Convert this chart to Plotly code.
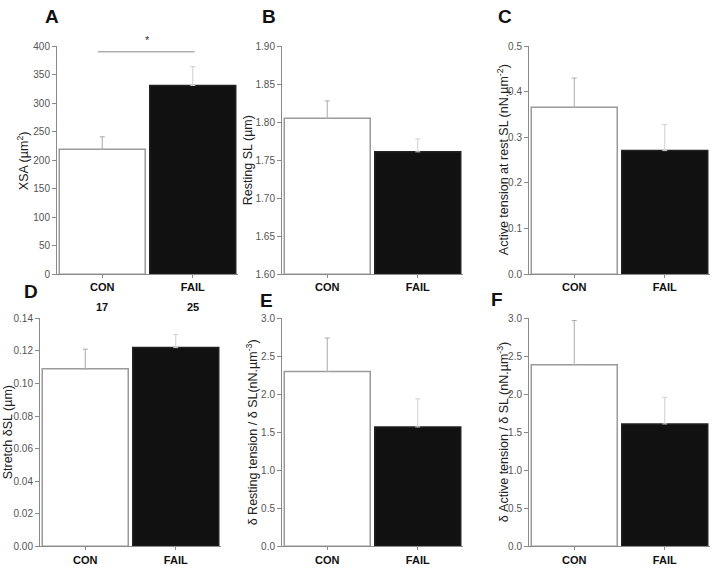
import plotly.graph_objects as go

W, H = 714, 569

categories = ["CON", "FAIL"]

# Panel values (mean, SEM)
xsa_mean = [219, 331]
xsa_sem = [22, 33]
rest_sl_mean = [1.805, 1.761]
rest_sl_sem = [0.023, 0.017]
active_rest_mean = [0.366, 0.271]
active_rest_sem = [0.064, 0.057]
stretch_mean = [0.109, 0.122]
stretch_sem = [0.012, 0.008]
rest_slope_mean = [2.30, 1.57]
rest_slope_sem = [0.44, 0.37]
active_slope_mean = [2.39, 1.61]
active_slope_sem = [0.58, 0.35]

n_labels = ["17", "25"]
sig_y = 390
sig_star_y = 396

panels = [
    dict(letter="A", mean=xsa_mean, sem=xsa_sem, title="XSA (µm<sup>2</sup>)",
         rng=[0, 400], dtick=50, fmt="d", px=(57, 238), py=(41, 274), tx=23, lx=52, ly=11),
    dict(letter="B", mean=rest_sl_mean, sem=rest_sl_sem, title="Resting SL (µm)",
         rng=[1.60, 1.90], dtick=0.05, fmt=".2f", px=(282, 463), py=(41, 274), tx=248, lx=269, ly=11),
    dict(letter="C", mean=active_rest_mean, sem=active_rest_sem,
         title="Active tension at rest SL (nN.µm<sup>-2</sup>)",
         rng=[0, 0.5], dtick=0.1, fmt=".1f", px=(529, 710), py=(41, 274), tx=503, lx=505, ly=11),
    dict(letter="D", mean=stretch_mean, sem=stretch_sem, title="Stretch δSL (µm)",
         rng=[0, 0.14], dtick=0.02, fmt=".2f", px=(40, 221), py=(319, 552), tx=8, lx=31, ly=292),
    dict(letter="E", mean=rest_slope_mean, sem=rest_slope_sem,
         title="δ Resting tension / δ SL(nN.µm<sup>-3</sup>)",
         rng=[0, 3.0], dtick=0.5, fmt=".1f", px=(282, 463), py=(319, 552), tx=252, lx=266, ly=301),
    dict(letter="F", mean=active_slope_mean, sem=active_slope_sem,
         title="δ Active tension / δ SL (nN.µm<sup>-3</sup>)",
         rng=[0, 3.0], dtick=0.5, fmt=".1f", px=(529, 710), py=(319, 552), tx=503, lx=497, ly=300),
]

bar_fill = ["#ffffff", "#111111"]
bar_line = ["#9a9a9a", "#222222"]
err_color = ["#aaaaaa", "#cfcfcf"]
AXC = "#8a8a8a"
FONT = "Liberation Sans, Arial, sans-serif"

fig = go.Figure()
annotations = []
layout = {}

for i, p in enumerate(panels):
    k = "" if i == 0 else str(i + 1)
    xa, ya = "x" + k, "y" + k
    base = p["rng"][0]
    for j, cat in enumerate(categories):
        fig.add_trace(go.Bar(
            x=[cat], y=[p["mean"][j] - base], base=base, xaxis=xa, yaxis=ya,
            width=0.95,
            marker=dict(color=bar_fill[j], line=dict(color=bar_line[j], width=1.5)),
            error_y=dict(type="data", symmetric=False, array=[p["sem"][j]], arrayminus=[0],
                         color=err_color[j], thickness=1, width=2.5),
            showlegend=False, hoverinfo="skip",
        ))
    layout["xaxis" + k] = dict(
        domain=[p["px"][0] / W, p["px"][1] / W], anchor=ya, type="category",
        range=[-0.5, 1.5], showline=True, linecolor=AXC, linewidth=1,
        ticks="outside", ticklen=3, tickcolor=AXC, showgrid=False, zeroline=False,
        tickfont=dict(family=FONT, size=11, color="#111111", weight="bold"),
    )
    layout["yaxis" + k] = dict(
        domain=[1 - p["py"][1] / H, 1 - p["py"][0] / H], anchor=xa,
        range=p["rng"], tick0=p["rng"][0], dtick=p["dtick"], tickformat=p["fmt"],
        showline=True, linecolor=AXC, linewidth=1, ticks="outside", ticklen=4,
        tickcolor=AXC, showgrid=False, zeroline=False,
        tickfont=dict(family=FONT, size=10, color="#555555"),
    )
    annotations.append(dict(
        text=p["title"], xref="paper", yref="paper", x=p["tx"] / W,
        y=1 - (p["py"][0] + p["py"][1]) / 2 / H, textangle=-90, showarrow=False,
        xanchor="center", yanchor="middle", font=dict(family=FONT, size=12.5, color="#222222"),
    ))
    annotations.append(dict(
        text="<b>" + p["letter"] + "</b>", xref="paper", yref="paper", x=p["lx"] / W,
        y=1 - p["ly"] / H, showarrow=False, xanchor="center", yanchor="middle",
        font=dict(family=FONT, size=19, color="#111111"),
    ))

# n labels under panel A
for j, cat in enumerate(categories):
    annotations.append(dict(
        text="<b>" + n_labels[j] + "</b>", xref="x", yref="paper", x=cat,
        y=1 - 307 / H, showarrow=False, xanchor="center", yanchor="middle",
        font=dict(family=FONT, size=11, color="#111111"),
    ))

# significance marker in panel A
annotations.append(dict(text="*", xref="x", yref="y", x=0.5, y=sig_star_y, showarrow=False,
                        xanchor="center", yanchor="bottom",
                        font=dict(family=FONT, size=11, color="#333333")))
shapes = [dict(type="line", xref="x", yref="y", x0=-0.05, x1=1.02, y0=sig_y, y1=sig_y,
               line=dict(color="#888888", width=1))]

fig.update_layout(
    width=W, height=H, margin=dict(l=0, r=0, t=0, b=0),
    paper_bgcolor="white", plot_bgcolor="white", barmode="overlay",
    annotations=annotations, shapes=shapes, **layout,
)

fig.write_html("out.html", config={"displayModeBar": False},
               post_script="document.body.style.margin='0';document.body.style.overflow='hidden';")
